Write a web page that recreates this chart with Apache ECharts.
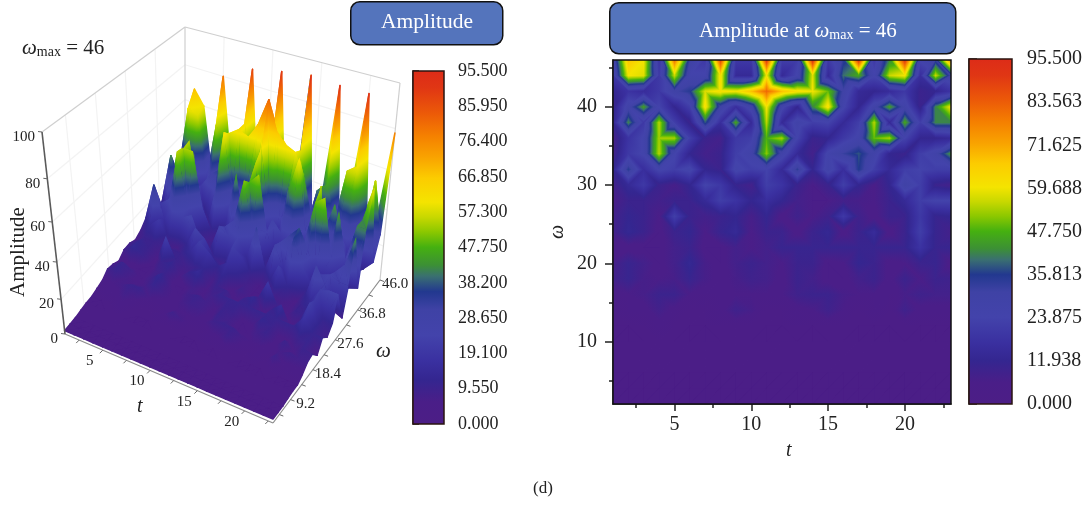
<!DOCTYPE html>
<html><head><meta charset="utf-8">
<style>html,body{margin:0;padding:0;background:#fff}#c{width:1092px;height:505px}</style>
<script src="https://cdn.jsdelivr.net/npm/echarts@6/dist/echarts.min.js"></script>
</head><body><div id="c"></div>
<script>
const tValues=[1,2,3,4,5,6,7,8,9,10,11,12,13,14,15,16,17,18,19,20,21,22,23];
const w46=[25,68,60,18,80,32,20,88,20,20,91,22,22,93,20,34,92,20,42,92,25,32,78];
const w44=[20,60,58,20,56,25,25,62,14,14,60,14,25,58,14,40,46,25,56,60,16,56,30];
const w42=[12,18,15,20,30,35,58,62,60,68,82,68,62,60,50,30,14,12,15,20,10,12,18];
const w40=[10,28,45,24,12,22,62,30,16,28,60,26,12,42,62,25,12,28,45,28,10,42,60];
const w38=[12,42,20,55,22,10,38,16,46,14,55,14,28,22,24,14,22,55,14,46,22,42,42];
const w36=[7,18,25,54,54,22,10,8,20,22,48,54,24,10,12,20,26,50,54,24,12,12,14];
const w34=[8,20,25,55,25,12,8,10,22,28,52,28,14,8,26,32,38,28,12,10,22,28,44];
const w32=[12,35,16,25,22,26,12,10,26,22,24,14,34,12,28,16,36,22,14,22,24,22,22];
const w30=[8,14,20,10,7,12,24,20,11,8,22,18,10,6,10,22,12,6,12,30,22,10,8];
const w28=[6,10,10,8,10,10,14,22,18,12,16,12,8,6,6,8,7,6,10,14,22,24,24];
const w26=[8,12,10,6,22,10,8,10,12,7,12,5,9,6,9,20,9,5,10,10,20,11,12];
const w24=[8,13,10,5,10,12,6,11,14,6,10,10,5,10,13,5,10,15,5,10,22,11,8];
const w22=[5,5,5,5,8,10,5,5,8,6,8,11,11,11,11,11,11,11,11,11,18,11,11];
const w20=[7,11,8,5,8,13,7,5,8,10,8,6,10,10,5,6,12,10,5,6,10,11,5];
const w18=[8,11,7,6,7,11,7,5,7,9,8,5,10,8,5,5,8,10,5,10,6,10,9];
const w16=[5,6,7,10,10,6,5,6,6,6,6,6,9,10,10,7,6,6,5,7,9,8,8];
const w14=[4,5,5,8,5,4,4,5,9,7,4,4,5,6,9,6,4,5,4,9,5,5,5];
const w12=[3,3,4,5,4,3,3,4,4,4,3,3,4,3,4,4,3,3,3,4,3,3,3];
const w10=[3,3,3,3,3,3,3,3,3,3,3,3,3,3,3,3,3,3,3,3,3,3,3];
const w8=[2.5,2.5,2.5,2.5,2.5,2.5,2.5,2.5,2.5,2.5,2.5,2.5,2.5,2.5,2.5,2.5,2.5,2.5,2.5,2.5,2.5,2.5,2.5];
const w6=[2,2,2,2,2,2,2,2,2,2,2,2,2,2,2,2,2,2,2,2,2,2,2];
const w4=[2,2,2,2,2,2,2,2,2,2,2,2,2,2,2,2,2,2,2,2,2,2,2];
const w2=[2,2,2,2,2,2,2,2,2,2,2,2,2,2,2,2,2,2,2,2,2,2,2];
const omegaValues=[2,4,6,8,10,12,14,16,18,20,22,24,26,28,30,32,34,36,38,40,42,44,46];
const rows=[w2,w4,w6,w8,w10,w12,w14,w16,w18,w20,w22,w24,w26,w28,w30,w32,w34,w36,w38,w40,w42,w44,w46];
const tTicks3d=[5,10,15,20], tMinor3d=[2.5,7.5,12.5,17.5,22.5];
const omegaTicks3d=[9.2,18.4,27.6,36.8,46], omegaMinor3d=[4.6,13.8,23,32.2,41.4];
const ampTicks3d=[0,20,40,60,80,100];
const tTicksHeat=[5,10,15,20], tMinorHeat=[2.5,7.5,12.5,17.5,22.5];
const omegaTicksHeat=[10,20,30,40], omegaMinorHeat=[5,15,25,35,45];
const barMax=95.5;
const colorStops=[[0,'#4c1e86'],[6,'#4a1e88'],[12,'#342690'],[17,'#3a30a0'],[24,'#4343ab'],[31,'#3f42a5'],[35.8,'#22388f'],[38,'#2f5580'],[40,'#3a7070'],[43,'#3c9035'],[47.8,'#45b010'],[52,'#8cc800'],[56,'#c8d800'],[60,'#f4e400'],[66.5,'#fccc00'],[72,'#f9a400'],[78,'#f58000'],[84,'#ec5a08'],[91,'#e03614'],[95.5,'#dd2c18']];

const SERIF='"Liberation Serif","DejaVu Serif",serif';
const hex=c=>[parseInt(c.slice(1,3),16),parseInt(c.slice(3,5),16),parseInt(c.slice(5,7),16)];
const cm=colorStops.map(s=>[s[0],hex(s[1])]);
function colorAt(v){
  v=Math.max(0,Math.min(barMax,v));
  for(let i=1;i<cm.length;i++){ if(v<=cm[i][0]){
    const f=(v-cm[i-1][0])/(cm[i][0]-cm[i-1][0]),a=cm[i-1][1],b=cm[i][1];
    return 'rgb('+a.map((x,k)=>Math.round(x+(b[k]-x)*f)).join(',')+')';}}
  return colorStops[colorStops.length-1][1];
}
function triFill(p,v){
  const dx1=p[1][0]-p[0][0],dy1=p[1][1]-p[0][1],dx2=p[2][0]-p[0][0],dy2=p[2][1]-p[0][1];
  const dv1=v[1]-v[0],dv2=v[2]-v[0],det=dx1*dy2-dy1*dx2;
  const mean=(v[0]+v[1]+v[2])/3;
  if(Math.abs(det)<1e-3) return colorAt(mean);
  const a=(dv1*dy2-dv2*dy1)/det,b=(dx1*dv2-dx2*dv1)/det,g2=a*a+b*b;
  if(g2<1e-9) return colorAt(mean);
  let lo=0; for(let i=1;i<3;i++) if(v[i]<v[lo]) lo=i;
  const vlo=v[lo],vhi=Math.max(v[0],v[1],v[2]),r=vhi-vlo;
  if(r<1e-6) return colorAt(mean);
  const ex=p[lo][0]+a*r/g2,ey=p[lo][1]+b*r/g2;
  const stops=[{offset:0,color:colorAt(vlo)}];
  cm.forEach(s=>{ if(s[0]>vlo&&s[0]<vhi) stops.push({offset:(s[0]-vlo)/r,color:colorAt(s[0])}); });
  stops.push({offset:1,color:colorAt(vhi)});
  return new echarts.graphic.LinearGradient(p[lo][0],p[lo][1],ex,ey,stops,true);
}
function buildTriangles(){
  const out=[];
  for(let j=rows.length-2;j>=0;j--) for(let i=0;i<tValues.length-1;i++){
    const A=[tValues[i],omegaValues[j],rows[j][i]],B=[tValues[i+1],omegaValues[j],rows[j][i+1]],
          C=[tValues[i+1],omegaValues[j+1],rows[j+1][i+1]],D=[tValues[i],omegaValues[j+1],rows[j+1][i]];
    if(A[2]+C[2]<=B[2]+D[2]){ out.push([...A,...C,...D]); out.push([...A,...B,...C]); }
    else { out.push([...D,...B,...C]); out.push([...A,...B,...D]); }
  }
  return out;
}
const triangles=buildTriangles();
const box={c000:[65,334],c100:[273,423],c010:[185,190],c110:[380,280],c001:[42,132],c101:[270,187],c011:[185,27],c111:[400,83]};
function project(t,w,a){
  const u=(t-1)/22,v=(w-2)/44,z0=a/100,z=z0/(1.206-0.206*z0);
  const mix=k=>(1-u)*(1-v)*(1-z)*box.c000[k]+u*(1-v)*(1-z)*box.c100[k]+(1-u)*v*(1-z)*box.c010[k]+u*v*(1-z)*box.c110[k]
    +(1-u)*(1-v)*z*box.c001[k]+u*(1-v)*z*box.c101[k]+(1-u)*v*z*box.c011[k]+u*v*z*box.c111[k];
  return [mix(0),mix(1)];
}
function triItem(toPx,under){
  return function(_,api){
    const p=[0,3,6].map(o=>toPx(api,api.value(o),api.value(o+1),api.value(o+2)));
    const v=[api.value(2),api.value(5),api.value(8)];
    const f=triFill(p,v);
    const style=under?{fill:f,stroke:f,lineWidth:1.5,lineJoin:'round'}:{fill:f};
    return {type:'polygon',shape:{points:p},silent:true,style:style};
  };
}
const surfacePx=(api,t,w,a)=>api.coord(project(t,w,a));
const heatPx=(api,t,w)=>api.coord([t,w]);

const lineColors=['#f3f3f3','#cfcfcf','#5a5a5a','#8c8c8c'];
const wallLines=[];
ampTicks3d.slice(1,-1).forEach(a=>{wallLines.push([1,2,a,1,46,a,0]);wallLines.push([1,46,a,23,46,a,0]);});
tTicks3d.forEach(t=>wallLines.push([t,46,0,t,46,100,0]));
omegaTicks3d.slice(0,-1).forEach(w=>wallLines.push([1,w,0,1,w,100,0]));
wallLines.push([1,2,100,1,46,100,1],[1,46,100,23,46,100,1],[1,46,0,1,46,100,1],[23,46,0,23,46,100,1]);
const frontLines=[[1,2,0,1,2,100,2],[1,2,0,23,2,0,3],[23,2,0,23,46,0,3]];
const renderLine=(_,api)=>{
  const a=api.coord(project(api.value(0),api.value(1),api.value(2))),b=api.coord(project(api.value(3),api.value(4),api.value(5)));
  return {type:'line',silent:true,shape:{x1:a[0],y1:a[1],x2:b[0],y2:b[1]},style:{stroke:lineColors[api.value(6)],lineWidth:api.value(6)===2?1.6:1.2}};
};
const tickDir=[[-3,3],[4,1.5],[-4,-0.5]];
const labelOff=[[-13,11],[15,4],[-7,5]];
const tickData=[
  ...tTicks3d.map(t=>[t,2,0,0]),...tMinor3d.map(t=>[t,2,0,0]),
  ...omegaTicks3d.map(w=>[23,w,0,1]),...omegaMinor3d.map(w=>[23,w,0,1]),
  ...ampTicks3d.map(a=>[1,2,a,2])];
const renderTick=(_,api)=>{
  const k=api.value(3),a=api.coord(project(api.value(0),api.value(1),api.value(2)));
  return {type:'line',silent:true,shape:{x1:a[0],y1:a[1],x2:a[0]+tickDir[k][0],y2:a[1]+tickDir[k][1]},style:{stroke:'#666',lineWidth:1}};
};
const labelData=[
  ...tTicks3d.map(t=>[t,2,0,0,String(t)]),
  ...omegaTicks3d.map(w=>[23,w,0,1,w.toFixed(1)]),
  ...ampTicks3d.map(a=>[1,2,a,2,String(a)])];
const renderLabel=(p,api)=>{
  const d=labelData[p.dataIndex],k=d[3],a=api.coord(project(d[0],d[1],d[2]));
  return {type:'text',silent:true,x:a[0]+labelOff[k][0],y:a[1]+labelOff[k][1],
    style:{text:d[4],font:'15px '+SERIF,fill:'#222',textAlign:k===2?'right':'center',textVerticalAlign:'middle'}};
};
const renderBar=(_,api)=>{
  const a=api.coord([0,0]),b=api.coord([1,barMax]);
  const st=colorStops.map(s=>({offset:s[0]/barMax,color:s[1]}));
  return {type:'rect',silent:true,shape:{x:a[0],y:b[1],width:b[0]-a[0],height:a[1]-b[1]},
    style:{fill:new echarts.graphic.LinearGradient(0,a[1],0,b[1],st,true),stroke:'#2a1510',lineWidth:1.5}};
};
const renderFrame=(_,api)=>{
  const a=api.coord([api.value(0),api.value(1)]),b=api.coord([api.value(2),api.value(3)]);
  return {type:'rect',silent:true,shape:{x:a[0],y:b[1],width:b[0]-a[0],height:a[1]-b[1]},style:{fill:'none',stroke:'#111',lineWidth:1.5}};
};
const hidden={show:false};
const axisBase={axisLine:{show:true,onZero:false,lineStyle:{color:'#222',width:1.5}},axisTick:{show:true,inside:false,lineStyle:{color:'#222',width:1.5}},splitLine:{show:false}};
const barY=(gi,step,tick,margin,fs)=>({gridIndex:gi,type:'value',position:'right',min:0,max:barMax,interval:step,
  axisLine:{show:true,lineStyle:{color:'#222',width:1.5}},axisTick:{show:true,length:tick,lineStyle:{color:'#222',width:1.5}},splitLine:{show:false},
  axisLabel:{margin:margin,fontFamily:SERIF,fontSize:fs,color:'#222',hideOverlap:false,formatter:v=>v.toFixed(3)}});
const option={
  animation:false,backgroundColor:'#fff',
  grid:[{left:0,top:0,width:1092,height:505},{left:613,top:60,width:338,height:344},{left:413,top:71,width:31,height:353},{left:969,top:59,width:43,height:345}],
  xAxis:[
    {gridIndex:0,type:'value',min:0,max:1092,show:false},
    {...axisBase,gridIndex:1,type:'value',position:'bottom',min:1,max:23,
      axisTick:{...axisBase.axisTick,length:7,customValues:tTicksHeat},axisLabel:{margin:11,fontFamily:SERIF,fontSize:20,color:'#222',customValues:tTicksHeat}},
    {gridIndex:1,type:'value',position:'bottom',min:1,max:23,axisLine:hidden,axisLabel:hidden,splitLine:hidden,axisTick:{show:true,length:4,customValues:tMinorHeat,lineStyle:{color:'#222',width:1.5}}},
    {gridIndex:2,type:'value',min:0,max:1,show:false},
    {gridIndex:3,type:'value',min:0,max:1,show:false}
  ],
  yAxis:[
    {gridIndex:0,type:'value',min:0,max:505,inverse:true,show:false},
    {...axisBase,gridIndex:1,type:'value',position:'left',min:2,max:46,name:'ω',nameLocation:'middle',nameGap:45,nameTextStyle:{fontFamily:SERIF,fontStyle:'italic',fontSize:20,color:'#222'},
      axisTick:{...axisBase.axisTick,length:8,customValues:omegaTicksHeat},axisLabel:{margin:16,fontFamily:SERIF,fontSize:20,color:'#222',customValues:omegaTicksHeat}},
    {gridIndex:1,type:'value',position:'left',min:2,max:46,axisLine:hidden,axisLabel:hidden,splitLine:hidden,axisTick:{show:true,length:4,customValues:omegaMinorHeat,lineStyle:{color:'#222',width:1.5}}},
    barY(2,barMax/10,6,14,18),
    barY(3,barMax/8,8,15,20)
  ],
  series:[
    {type:'custom',name:'walls',xAxisIndex:0,yAxisIndex:0,coordinateSystem:'cartesian2d',clip:false,data:wallLines,renderItem:renderLine,silent:true},
    {type:'custom',name:'surfaceBase',xAxisIndex:0,yAxisIndex:0,clip:false,data:triangles,renderItem:triItem(surfacePx,true),silent:true,encode:{x:0,y:1}},
    {type:'custom',name:'surface',xAxisIndex:0,yAxisIndex:0,clip:false,data:triangles,renderItem:triItem(surfacePx,false),silent:true,encode:{x:0,y:1}},
    {type:'custom',name:'front',xAxisIndex:0,yAxisIndex:0,clip:false,data:frontLines,renderItem:renderLine,silent:true},
    {type:'custom',name:'ticks',xAxisIndex:0,yAxisIndex:0,clip:false,data:tickData,renderItem:renderTick,silent:true},
    {type:'custom',name:'labels',xAxisIndex:0,yAxisIndex:0,clip:false,data:labelData.map(d=>d.slice(0,4)),renderItem:renderLabel,silent:true},
    {type:'custom',name:'heatBase',xAxisIndex:1,yAxisIndex:1,clip:true,data:triangles,renderItem:triItem(heatPx,true),silent:true,encode:{x:0,y:1}},
    {type:'custom',name:'heat',xAxisIndex:1,yAxisIndex:1,clip:true,data:triangles,renderItem:triItem(heatPx,false),silent:true,encode:{x:0,y:1}},
    {type:'custom',name:'heatFrame',xAxisIndex:1,yAxisIndex:1,clip:false,data:[[1,2,23,46]],renderItem:renderFrame,silent:true},
    {type:'custom',name:'barLeft',xAxisIndex:3,yAxisIndex:3,clip:false,data:[[0,0]],renderItem:renderBar,silent:true},
    {type:'custom',name:'barRight',xAxisIndex:4,yAxisIndex:4,clip:false,data:[[0,0]],renderItem:renderBar,silent:true}
  ],
  graphic:[
    {type:'rect',left:350,top:1,shape:{width:152,height:43,r:9},style:{fill:'#5474bc',stroke:'#111',lineWidth:1.5},silent:true},
    {type:'text',left:381,top:11,style:{text:'Amplitude',font:'21.5px '+SERIF,fill:'#fff'},silent:true},
    {type:'rect',left:609,top:2,shape:{width:346,height:51,r:9},style:{fill:'#5474bc',stroke:'#111',lineWidth:1.5},silent:true},
    {type:'text',left:699,top:21,style:{rich:{n:{font:'21px '+SERIF,fill:'#fff'},i:{font:'italic 21px '+SERIF,fill:'#fff'},s:{font:'14px '+SERIF,fill:'#fff',padding:[7,0,0,0]}},text:'{n|Amplitude at }{i|ω}{s|max}{n| = 46}'},silent:true},
    {type:'text',left:22,top:38,style:{rich:{n:{font:'21px '+SERIF,fill:'#222'},i:{font:'italic 21px '+SERIF,fill:'#222'},s:{font:'14px '+SERIF,fill:'#222',padding:[7,0,0,0]}},text:'{i|ω}{s|max}{n| = 46}'},silent:true},
    {type:'text',x:18,y:252,rotation:Math.PI/2,style:{text:'Amplitude',font:'21px '+SERIF,fill:'#222',textAlign:'center',textVerticalAlign:'middle'},silent:true},
    {type:'text',left:137,top:397,style:{text:'t',font:'italic 20px '+SERIF,fill:'#222'},silent:true},
    {type:'text',left:376,top:341,style:{text:'ω',font:'italic 21px '+SERIF,fill:'#222'},silent:true},
    {type:'text',left:786,top:441,style:{text:'t',font:'italic 20px '+SERIF,fill:'#222'},silent:true},
    {type:'text',left:533,top:480,style:{text:'(d)',font:'17px '+SERIF,fill:'#222'},silent:true}
  ]
};
const chart=echarts.init(document.getElementById('c'),null,{renderer:'canvas'});
chart.setOption(option);
</script></body></html>
